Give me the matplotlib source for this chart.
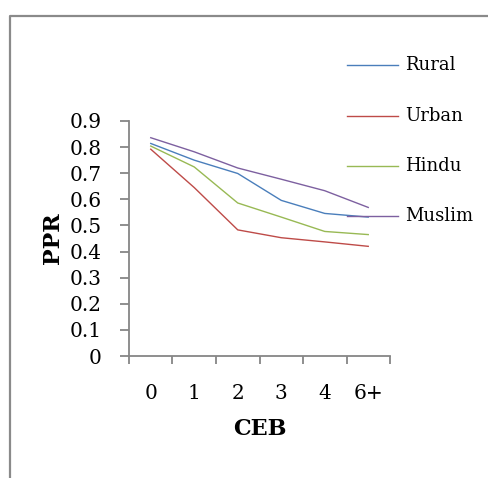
import matplotlib.pyplot as plt
from matplotlib.lines import Line2D

# CEB categories and PPR for each group
ceb = ['0', '1', '2', '3', '4', '6+']
rural = [0.814, 0.750, 0.699, 0.596, 0.546, 0.532]
urban = [0.792, 0.645, 0.483, 0.453, 0.437, 0.420]
hindu = [0.804, 0.724, 0.586, 0.532, 0.477, 0.465]
muslim = [0.836, 0.782, 0.720, 0.677, 0.633, 0.569]

series = [('Rural', rural, '#4a7ebb'),
          ('Urban', urban, '#be4b48'),
          ('Hindu', hindu, '#98b954'),
          ('Muslim', muslim, '#7d60a0')]

plt.rcParams['font.family'] = ['DejaVu Serif']

W, H = 489, 478
fig = plt.figure(figsize=(W / 100, H / 100), dpi=100)
ax = fig.add_axes([129 / W, 1 - 356 / H, 261 / W, 235 / H])

x = list(range(len(ceb)))
for name, vals, col in series:
    ax.plot(x, vals, color=col, lw=1.0, label=name)

ax.set_xlim(-0.5, len(ceb) - 0.5)
ax.set_ylim(0, 0.9)
ax.set_yticks([i / 10 for i in range(10)])
ax.set_yticklabels(['0'] + ['%.1f' % (i / 10) for i in range(1, 10)], fontsize=14.5)
ax.set_xticks(x)
ax.set_xticklabels(ceb, fontsize=14.5)
ax.set_xticks([i - 0.5 for i in range(len(ceb) + 1)], minor=True)
ax.tick_params(axis='x', which='major', length=0, pad=20)
ax.tick_params(axis='x', which='minor', length=6, color='#868686', width=1.3)
ax.tick_params(axis='y', length=6.5, color='#868686', width=1.3, pad=13)

for s in ['top', 'right']:
    ax.spines[s].set_visible(False)
for s in ['left', 'bottom']:
    ax.spines[s].set_color('#868686')
    ax.spines[s].set_linewidth(1.3)

ax.set_xlabel('CEB', fontsize=16, fontweight='bold', labelpad=11)
ax.set_ylabel('PPR', fontsize=16, fontweight='bold', labelpad=4)

# legend entries stacked on the right
leg_y = [65, 116, 166, 216]
for (name, _, col), yy in zip(series, leg_y):
    fig.add_artist(Line2D([347 / W, 398 / W], [1 - yy / H, 1 - yy / H],
                          color=col, lw=1.0, transform=fig.transFigure))
    fig.text(405 / W, 1 - yy / H, name, fontsize=13, va='center', ha='left')

# outer frame
fig.add_artist(Line2D([10 / W, 10 / W, 1], [0, 1 - 16 / H, 1 - 16 / H],
                      color='#8a8a8a', lw=1.6, transform=fig.transFigure))

fig.savefig('out.png', dpi=100)
